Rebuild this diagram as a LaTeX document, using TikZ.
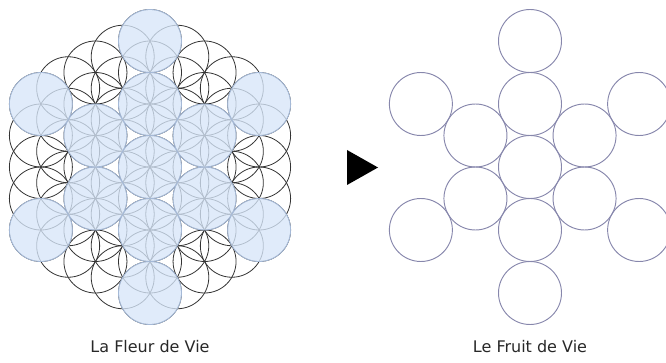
\documentclass[tikz,border=0pt]{standalone}
\usepackage{fontspec}
\setmainfont{DejaVu Sans}
\definecolor{fruitfill}{RGB}{215,230,249}
\definecolor{fruitedge}{RGB}{165,185,215}
\definecolor{fruitline}{RGB}{135,135,172}
\definecolor{labelgray}{RGB}{40,40,40}
\tikzset{
  flower/.style={draw=black!80, line width=0.8pt},
  fruitblue/.style={draw=fruitedge, line width=0.8pt, fill=fruitfill, fill opacity=0.78},
  fruitring/.style={draw=fruitline, line width=0.95pt},
  arrowtri/.style={fill=black, draw=none},
  caption/.style={text=labelgray, font=\fontsize{16}{19}\selectfont, inner sep=0pt}
}
\begin{document}
\begin{tikzpicture}[x=1pt,y=-1pt]
\useasboundingbox (0,0) rectangle (666,363);
\def\R{31.5}
% ---- Flower of Life: hexagonal lattice of radius 4 ----
\coordinate (L) at (150,167);
\coordinate (F) at (530,167);
\draw[flower] (L) circle[radius=\R];
\foreach \k in {1,...,4}{
  \pgfmathtruncatemacro{\km}{\k-1}
  \foreach \s in {0,...,5}{
    \foreach \m in {0,...,\km}{
      \draw[flower] (L) ++({\R*(\k*cos(30+60*\s)+\m*cos(150+60*\s))},{\R*(\k*sin(30+60*\s)+\m*sin(150+60*\s))}) circle[radius=\R];
    }
  }
}
% ---- Fruit of Life highlighted on the flower ----
\draw[fruitblue] (L) circle[radius=\R];
\foreach \s in {0,...,5}{
  \draw[fruitblue] (L) ++({2*\R*cos(30+60*\s)},{2*\R*sin(30+60*\s)}) circle[radius=\R];
  \draw[fruitblue] (L) ++({4*\R*cos(30+60*\s)},{4*\R*sin(30+60*\s)}) circle[radius=\R];
}
% ---- Fruit of Life alone ----
\draw[fruitring] (F) circle[radius=\R];
\foreach \s in {0,...,5}{
  \draw[fruitring] (F) ++({2*\R*cos(30+60*\s)},{2*\R*sin(30+60*\s)}) circle[radius=\R];
  \draw[fruitring] (F) ++({4*\R*cos(30+60*\s)},{4*\R*sin(30+60*\s)}) circle[radius=\R];
}
% ---- arrow ----
\fill[arrowtri] (347,150) -- (378,167.5) -- (347,185) -- cycle;
% ---- captions ----
\node[caption] (capL) at (150,347) {La Fleur de Vie};
\node[caption] (capR) at (530,347) {Le Fruit de Vie};
\end{tikzpicture}
\end{document}
